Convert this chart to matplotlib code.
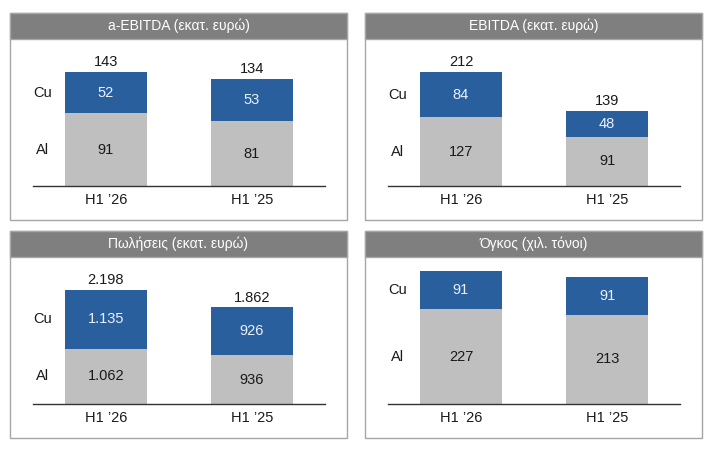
#!/usr/bin/env python3
"""
Four stacked-bar panels: Al / Cu split per half-year
"""

import matplotlib
matplotlib.use("Agg")
import matplotlib.pyplot as plt
from matplotlib.patches import Rectangle
import matplotlib.transforms as mtransforms

plt.rcParams['font.family'] = ['Liberation Sans', 'DejaVu Sans']

# data
categories = ["H1 \u201926", "H1 \u201925"]
titles = ["a-EBITDA (εκατ. ευρώ)", "EBITDA (εκατ. ευρώ)",
          "Πωλήσεις (εκατ. ευρώ)", "Όγκος (χιλ. τόνοι)"]
al_values = [[91, 81], [127, 91], [1062, 936], [227, 213]]
cu_values = [[52, 53], [84, 48], [1135, 926], [91, 91]]
totals = [[143, 134], [212, 139], [2198, 1862], None]
series_names = ["Al", "Cu"]

# styling
W, H = 711, 449
BLUE = "#2A5F9E"
GRAY = "#BFBFBF"
HEADER = "#7F7F7F"
BORDER = "#A6A6A6"
FS = 10.5

# panel boxes in pixels (left, top, right, bottom)
panels = [(10, 13, 347, 220), (365, 13, 702, 220),
          (10, 231, 347, 438), (365, 231, 702, 438)]
top_frac = [0.776, 0.776, 0.776, 0.905]


def fmt(v):
    return f"{v:,}".replace(",", ".")


def fx(px):
    return px / W


def fy(py):
    return 1 - py / H


fig = plt.figure(figsize=(W / 100, H / 100), dpi=100)
fig.patch.set_facecolor("white")

for i, (l, t, r, b) in enumerate(panels):
    # frame + header
    fig.patches.append(Rectangle((fx(l), fy(b)), fx(r - l), (b - t) / H,
                                 transform=fig.transFigure, facecolor="white",
                                 edgecolor=BORDER, linewidth=1, zorder=-2))
    fig.patches.append(Rectangle((fx(l), fy(t + 26)), fx(r - l), 26 / H,
                                 transform=fig.transFigure, facecolor=HEADER,
                                 edgecolor=BORDER, linewidth=1, zorder=-1))
    fig.text(fx((l + r) / 2), fy(t + 13), titles[i], color="white",
             fontsize=10, ha="center", va="center")

    # bar axes
    ax_l, ax_r = l + 23, l + 315
    ax_t, ax_b = t + 26, t + 173
    ax = fig.add_axes([fx(ax_l), fy(ax_b), fx(ax_r - ax_l), (ax_b - ax_t) / H])
    ax.set_zorder(5)
    ax.patch.set_alpha(0)

    al = al_values[i]
    cu = cu_values[i]
    x = range(len(categories))
    ax.bar(x, al, width=0.56, color=GRAY, zorder=2)
    ax.bar(x, cu, width=0.56, bottom=al, color=BLUE, zorder=2)

    peak = max(a + c for a, c in zip(al, cu))
    ax.set_ylim(0, peak / top_frac[i])
    ax.set_xlim(-0.5, 1.5)

    for j in x:
        ax.text(j, al[j] / 2, fmt(al[j]), ha="center", va="center",
                fontsize=FS, color="#1A1A1A", zorder=3)
        ax.text(j, al[j] + cu[j] / 2, fmt(cu[j]), ha="center", va="center",
                fontsize=FS, color="#EAF1FB", zorder=3)
        if totals[i] is not None:
            ax.annotate(fmt(totals[i][j]), (j, al[j] + cu[j]),
                        xytext=(0, 2), textcoords="offset points",
                        ha="center", va="bottom", fontsize=FS, color="#1A1A1A")

    # series names next to first bar
    trans = mtransforms.blended_transform_factory(ax.transAxes, ax.transData)
    ax.text(0.032, al[0] / 2, series_names[0], transform=trans,
            ha="center", va="center", fontsize=FS, color="#1A1A1A")
    ax.text(0.032, al[0] + cu[0] / 2, series_names[1], transform=trans,
            ha="center", va="center", fontsize=FS, color="#1A1A1A")

    ax.set_xticks(list(x))
    ax.set_xticklabels(categories, fontsize=FS, color="#1A1A1A")
    ax.tick_params(axis="x", length=0, pad=5)
    ax.set_yticks([])
    for side in ["top", "right", "left"]:
        ax.spines[side].set_visible(False)
    ax.spines["bottom"].set_color("#333333")
    ax.spines["bottom"].set_linewidth(1)

fig.savefig("out.png", dpi=100, facecolor="white")
